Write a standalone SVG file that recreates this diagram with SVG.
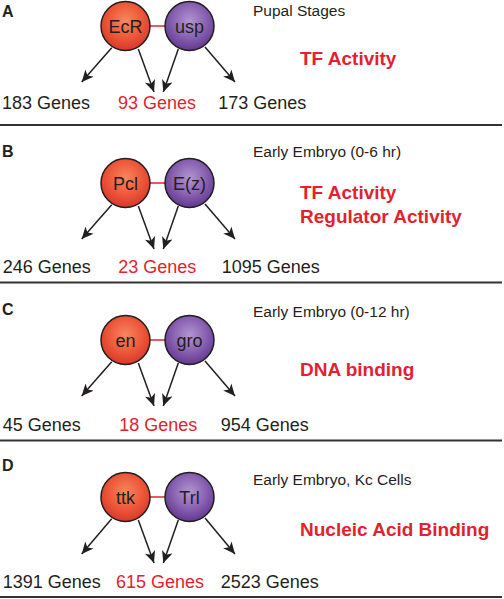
<svg xmlns="http://www.w3.org/2000/svg" width="504" height="599" viewBox="0 0 504 599">
<defs>
<radialGradient id="gRed" cx="50%" cy="40%" r="60%">
<stop offset="0" stop-color="#f7875f"/>
<stop offset="0.55" stop-color="#ee5a3b"/>
<stop offset="1" stop-color="#d8382a"/>
</radialGradient>
<radialGradient id="gPur" cx="50%" cy="40%" r="60%">
<stop offset="0" stop-color="#b295d0"/>
<stop offset="0.55" stop-color="#8a63b2"/>
<stop offset="1" stop-color="#623891"/>
</radialGradient>
<marker id="ah" markerUnits="userSpaceOnUse" markerWidth="13" markerHeight="11" viewBox="0 0 12 10" refX="11" refY="5" orient="auto">
<path d="M0,0 L11,5 L0,10 L3,5 Z" fill="#231f20"/>
</marker>
</defs>
<style>
.tf1{fill:url(#gRed);stroke:#231f20;stroke-width:1.5}
.tf2{fill:url(#gPur);stroke:#231f20;stroke-width:1.5}
.nl{font-family:"Liberation Sans",Arial,sans-serif;font-size:18px;fill:#231f20;text-anchor:middle}
.gn{font-family:"Liberation Sans",Arial,sans-serif;font-size:18px;fill:#231f20}
.gr{fill:#e2232f}
.pl{font-family:"Liberation Sans",Arial,sans-serif;font-size:16px;font-weight:bold;fill:#231f20}
.st{font-family:"Liberation Sans",Arial,sans-serif;font-size:15.5px;fill:#231f20}
.go{font-family:"Liberation Sans",Arial,sans-serif;font-size:19px;font-weight:bold;fill:#e2232f}
.ar{stroke:#231f20;stroke-width:1.5;fill:none;marker-end:url(#ah)}
.lk{stroke:#e2232f;stroke-width:1.5}
.sep{stroke:#333;stroke-width:2.2}
</style>

<g id="connectors">
<line class="lk" x1="150" y1="26" x2="165" y2="26"/>
<line class="ar" x1="111.7" y1="47.7" x2="81.7" y2="82"/>
<line class="ar" x1="138.3" y1="49" x2="154" y2="92"/>
<line class="ar" x1="178.3" y1="49" x2="163.3" y2="92"/>
<line class="ar" x1="205" y1="47" x2="235" y2="82"/>

<line class="lk" x1="150" y1="183" x2="165" y2="183"/>
<line class="ar" x1="111.7" y1="204.7" x2="81.7" y2="239"/>
<line class="ar" x1="138.3" y1="206" x2="154" y2="249"/>
<line class="ar" x1="178.3" y1="206" x2="163.3" y2="249"/>
<line class="ar" x1="205" y1="204" x2="235" y2="239"/>

<line class="lk" x1="150" y1="340" x2="165" y2="340"/>
<line class="ar" x1="111.7" y1="361.7" x2="81.7" y2="396"/>
<line class="ar" x1="138.3" y1="363" x2="154" y2="406"/>
<line class="ar" x1="178.3" y1="363" x2="163.3" y2="406"/>
<line class="ar" x1="205" y1="361" x2="235" y2="396"/>

<line class="lk" x1="150" y1="497" x2="165" y2="497"/>
<line class="ar" x1="111.7" y1="518.7" x2="81.7" y2="554"/>
<line class="ar" x1="138.3" y1="520" x2="154" y2="563"/>
<line class="ar" x1="178.3" y1="520" x2="163.3" y2="563"/>
<line class="ar" x1="205" y1="518" x2="235" y2="554"/>
</g>

<g id="panelA">
<text class="pl" x="2" y="17">A</text>
<text class="st" x="253" y="16">Pupal Stages</text>
<text class="go" x="300" y="64.5">TF Activity</text>
<text class="gn" x="2" y="109">183 Genes</text>
<text class="gn gr" x="118" y="109">93 Genes</text>
<text class="gn" x="218.3" y="109">173 Genes</text>
<line class="sep" x1="0" y1="125" x2="502" y2="125"/>
</g>
<g id="EcR"><circle class="tf1" cx="125.5" cy="26" r="24.5"/><text class="nl" x="125.5" y="33">EcR</text></g>
<g id="usp"><circle class="tf2" cx="189.5" cy="26" r="24.5"/><text class="nl" x="189.5" y="33">usp</text></g>

<g id="panelB">
<text class="pl" x="2" y="157">B</text>
<text class="st" x="253" y="157.3">Early Embryo (0-6 hr)</text>
<text class="go" x="300" y="199.3">TF Activity</text>
<text class="go" x="300" y="222.7">Regulator Activity</text>
<text class="gn" x="2.7" y="272.5">246 Genes</text>
<text class="gn gr" x="118.3" y="272.5">23 Genes</text>
<text class="gn" x="221.7" y="272.5">1095 Genes</text>
<line class="sep" x1="0" y1="282.5" x2="502" y2="282.5"/>
</g>
<g id="Pcl"><circle class="tf1" cx="125.5" cy="183" r="24.5"/><text class="nl" x="125.5" y="190">Pcl</text></g>
<g id="Ez"><circle class="tf2" cx="189.5" cy="183" r="24.5"/><text class="nl" x="189.5" y="190">E(z)</text></g>

<g id="panelC">
<text class="pl" x="2" y="315">C</text>
<text class="st" x="253" y="316.7">Early Embryo (0-12 hr)</text>
<text class="go" x="300" y="375.7">DNA binding</text>
<text class="gn" x="2.7" y="431">45 Genes</text>
<text class="gn gr" x="119.3" y="431">18 Genes</text>
<text class="gn" x="220.7" y="431">954 Genes</text>
<line class="sep" x1="0" y1="440.5" x2="502" y2="440.5"/>
</g>
<g id="en"><circle class="tf1" cx="125.5" cy="340" r="24.5"/><text class="nl" x="125.5" y="347">en</text></g>
<g id="gro"><circle class="tf2" cx="189.5" cy="340" r="24.5"/><text class="nl" x="189.5" y="347">gro</text></g>

<g id="panelD">
<text class="pl" x="2" y="471">D</text>
<text class="st" x="253" y="485">Early Embryo, Kc Cells</text>
<text class="go" x="300" y="536">Nucleic Acid Binding</text>
<text class="gn" x="2.7" y="587.7">1391 Genes</text>
<text class="gn gr" x="116" y="587.7">615 Genes</text>
<text class="gn" x="220.7" y="587.7">2523 Genes</text>
<line class="sep" x1="0" y1="597" x2="502" y2="597"/>
</g>
<g id="ttk"><circle class="tf1" cx="125.5" cy="497" r="24.5"/><text class="nl" x="125.5" y="504">ttk</text></g>
<g id="Trl"><circle class="tf2" cx="189.5" cy="497" r="24.5"/><text class="nl" x="189.5" y="504">Trl</text></g>
</svg>
